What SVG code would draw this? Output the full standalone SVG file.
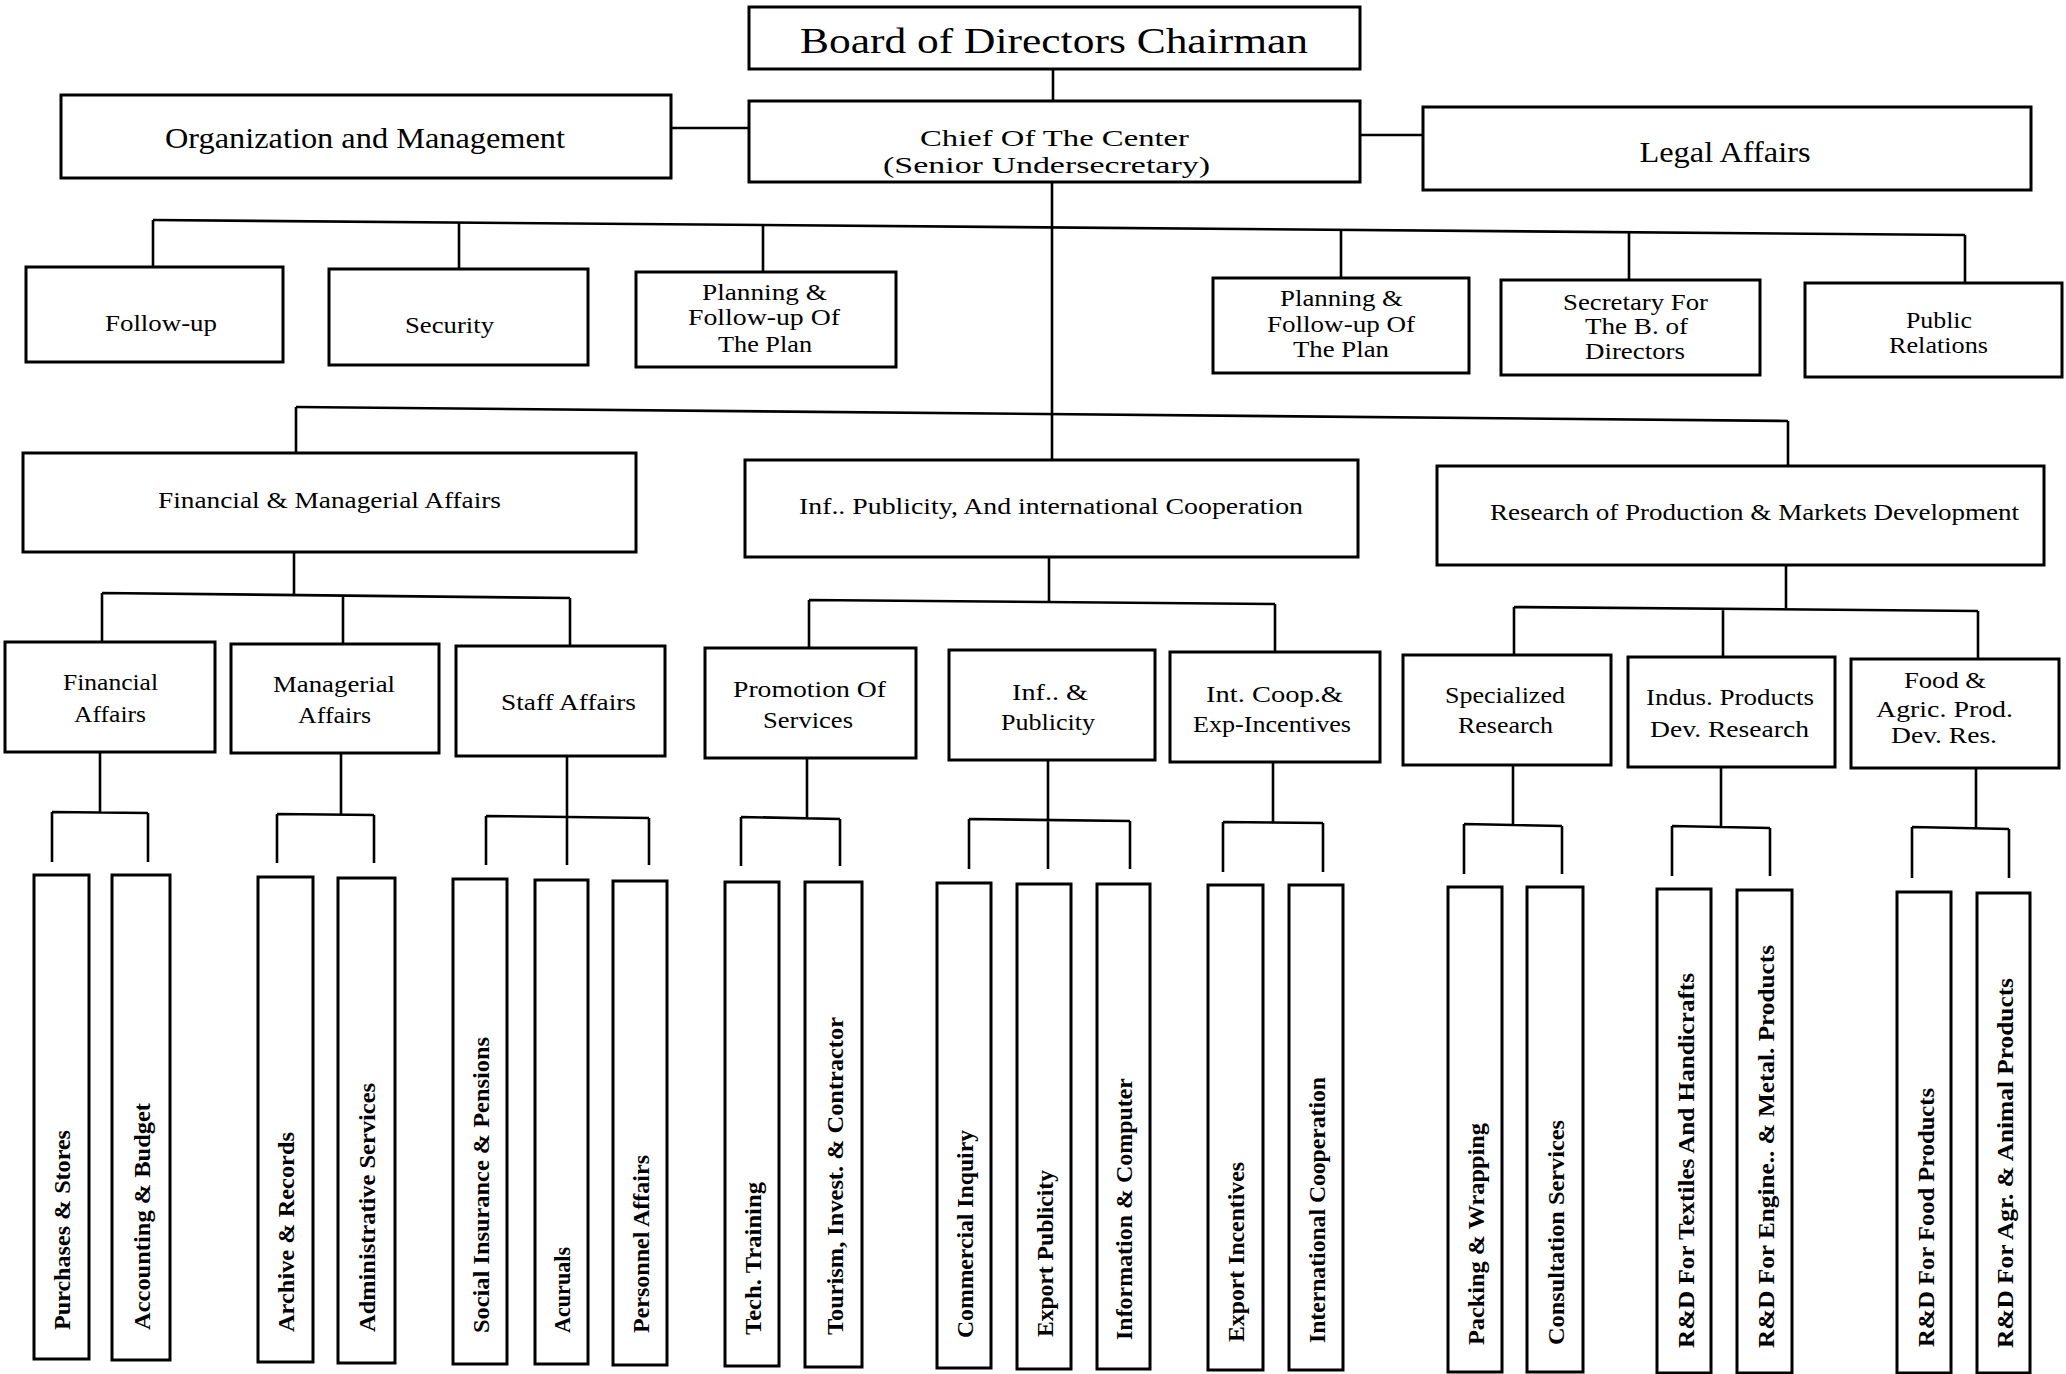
<svg xmlns="http://www.w3.org/2000/svg" width="2066" height="1374" viewBox="0 0 2066 1374">
<style>
.box{fill:#fff;stroke:#000;stroke-width:3}
.conn{fill:none;stroke:#000;stroke-width:2.6}
.t{font-family:"Liberation Serif",serif;text-anchor:middle;fill:#000;font-size:24px}
.t1{font-size:36px}
.t2{font-size:24px}
.t3{font-size:30px}
.v{font-family:"Liberation Serif",serif;font-weight:bold;font-size:24px;fill:#000}
</style>
<rect width="2066" height="1374" fill="#fff"/>
<g id="connectors">
<line class="conn" x1="1053" y1="69" x2="1053" y2="101"/>
<line class="conn" x1="671" y1="128" x2="749" y2="128"/>
<line class="conn" x1="1360" y1="135" x2="1423" y2="135"/>
<line class="conn" x1="1052" y1="182" x2="1052" y2="460"/>
<line class="conn" x1="153" y1="220" x2="1965" y2="235"/>
<path class="conn" d="M153 220V267M459 222.5V269M763 225V272M1341 230V278M1629 232V280M1965 235V283"/>
<line class="conn" x1="296" y1="407" x2="1788" y2="421"/>
<path class="conn" d="M296 407V453M1788 421V466"/>
<path class="conn" d="M294 552V595M102 593L570 598M102 593V642M343 596V644M570 598V646"/>
<path class="conn" d="M1049 557V602M809 600L1275 604M809 600V648M1275 604V652"/>
<path class="conn" d="M1786 565V608M1514 607L1978 611M1514 607V655M1723 609V657M1978 611V659"/>
<path class="conn" d="M100 752V813M52 812L148 813M52 812V862M148 813V862"/>
<path class="conn" d="M341 753V815M277 814L374 815M277 814V863M374 815V863"/>
<path class="conn" d="M567 756V817M486 816L649 818M486 816V865M567 817V865M649 818V865"/>
<path class="conn" d="M807 758V818M741 817L840 819M741 817V866M840 819V866"/>
<path class="conn" d="M1048 760V820M969 819L1130 821M969 819V869M1048 820V869M1130 821V869"/>
<path class="conn" d="M1273 762V822M1223 822L1323 823M1223 822V872M1323 823V872"/>
<path class="conn" d="M1513 765V825M1464 824L1562 826M1464 824V874M1562 826V874"/>
<path class="conn" d="M1721 767V827M1672 826L1770 828M1672 826V876M1770 828V876"/>
<path class="conn" d="M1976 768V828M1912 827L2009 829M1912 827V878M2009 829V878"/>
</g>
<g id="board"><rect class="box" x="749" y="7" width="611" height="62"/><text class="t t1" x="1054" y="53" textLength="508" lengthAdjust="spacingAndGlyphs">Board of Directors Chairman</text></g>
<g id="chief"><rect class="box" x="749" y="101" width="611" height="81"/><text class="t t2" x="1054.5" y="146" textLength="269" lengthAdjust="spacingAndGlyphs">Chief Of The Center</text><text class="t t2" x="1046.5" y="173" textLength="327" lengthAdjust="spacingAndGlyphs">(Senior Undersecretary)</text></g>
<g id="org"><rect class="box" x="61" y="95" width="610" height="83"/><text class="t t3" x="365" y="148" textLength="400" lengthAdjust="spacingAndGlyphs">Organization and Management</text></g>
<g id="legal"><rect class="box" x="1423" y="107" width="608" height="83"/><text class="t t3" x="1725" y="162" textLength="171" lengthAdjust="spacingAndGlyphs">Legal Affairs</text></g>
<g id="followup"><rect class="box" x="26" y="267" width="257" height="95"/><text class="t" x="161" y="331" textLength="112" lengthAdjust="spacingAndGlyphs">Follow-up</text></g>
<g id="security"><rect class="box" x="329" y="269" width="259" height="96"/><text class="t" x="449.5" y="333" textLength="89" lengthAdjust="spacingAndGlyphs">Security</text></g>
<g id="planning-left"><rect class="box" x="636" y="272" width="260" height="95"/><text class="t" x="764.5" y="300" textLength="125" lengthAdjust="spacingAndGlyphs">Planning &amp;</text><text class="t" x="764" y="325" textLength="152" lengthAdjust="spacingAndGlyphs">Follow-up Of</text><text class="t" x="765" y="352" textLength="94" lengthAdjust="spacingAndGlyphs">The Plan</text></g>
<g id="planning-right"><rect class="box" x="1213" y="278" width="256" height="95"/><text class="t" x="1341.5" y="306" textLength="123" lengthAdjust="spacingAndGlyphs">Planning &amp;</text><text class="t" x="1341" y="332" textLength="148" lengthAdjust="spacingAndGlyphs">Follow-up Of</text><text class="t" x="1341" y="357" textLength="96" lengthAdjust="spacingAndGlyphs">The Plan</text></g>
<g id="secretary"><rect class="box" x="1501" y="280" width="259" height="95"/><text class="t" x="1635.5" y="310" textLength="145" lengthAdjust="spacingAndGlyphs">Secretary For</text><text class="t" x="1636.5" y="334" textLength="103" lengthAdjust="spacingAndGlyphs">The B. of</text><text class="t" x="1635" y="359" textLength="100" lengthAdjust="spacingAndGlyphs">Directors</text></g>
<g id="public-relations"><rect class="box" x="1805" y="283" width="257" height="94"/><text class="t" x="1939" y="328" textLength="66" lengthAdjust="spacingAndGlyphs">Public</text><text class="t" x="1938.5" y="353" textLength="99" lengthAdjust="spacingAndGlyphs">Relations</text></g>
<g id="fin-man"><rect class="box" x="23" y="453" width="613" height="99"/><text class="t" x="329.5" y="508" textLength="343" lengthAdjust="spacingAndGlyphs">Financial &amp; Managerial Affairs</text></g>
<g id="inf-pub"><rect class="box" x="745" y="460" width="613" height="97"/><text class="t" x="1051" y="514" textLength="504" lengthAdjust="spacingAndGlyphs">Inf.. Publicity, And international Cooperation</text></g>
<g id="research"><rect class="box" x="1437" y="466" width="607" height="99"/><text class="t" x="1754.5" y="520" textLength="529" lengthAdjust="spacingAndGlyphs">Research of Production &amp; Markets Development</text></g>
<g id="financial-affairs"><rect class="box" x="5" y="642" width="210" height="110"/><text class="t" x="110.5" y="690" textLength="95" lengthAdjust="spacingAndGlyphs">Financial</text><text class="t" x="110" y="722" textLength="72" lengthAdjust="spacingAndGlyphs">Affairs</text></g>
<g id="managerial-affairs"><rect class="box" x="231" y="644" width="208" height="109"/><text class="t" x="334" y="692" textLength="122" lengthAdjust="spacingAndGlyphs">Managerial</text><text class="t" x="334.5" y="723" textLength="73" lengthAdjust="spacingAndGlyphs">Affairs</text></g>
<g id="staff-affairs"><rect class="box" x="456" y="646" width="209" height="110"/><text class="t" x="568.5" y="710" textLength="135" lengthAdjust="spacingAndGlyphs">Staff Affairs</text></g>
<g id="promotion"><rect class="box" x="705" y="648" width="211" height="110"/><text class="t" x="809.5" y="697" textLength="153" lengthAdjust="spacingAndGlyphs">Promotion Of</text><text class="t" x="808" y="728" textLength="90" lengthAdjust="spacingAndGlyphs">Services</text></g>
<g id="inf-publicity"><rect class="box" x="949" y="650" width="206" height="110"/><text class="t" x="1050" y="700" textLength="76" lengthAdjust="spacingAndGlyphs">Inf.. &amp;</text><text class="t" x="1048" y="730" textLength="94" lengthAdjust="spacingAndGlyphs">Publicity</text></g>
<g id="int-coop"><rect class="box" x="1170" y="652" width="210" height="110"/><text class="t" x="1274.5" y="702" textLength="137" lengthAdjust="spacingAndGlyphs">Int. Coop.&amp;</text><text class="t" x="1272" y="732" textLength="158" lengthAdjust="spacingAndGlyphs">Exp-Incentives</text></g>
<g id="specialized"><rect class="box" x="1403" y="655" width="208" height="110"/><text class="t" x="1505" y="703" textLength="120" lengthAdjust="spacingAndGlyphs">Specialized</text><text class="t" x="1505.5" y="733" textLength="95" lengthAdjust="spacingAndGlyphs">Research</text></g>
<g id="indus"><rect class="box" x="1628" y="657" width="207" height="110"/><text class="t" x="1730" y="705" textLength="168" lengthAdjust="spacingAndGlyphs">Indus. Products</text><text class="t" x="1729.5" y="737" textLength="159" lengthAdjust="spacingAndGlyphs">Dev. Research</text></g>
<g id="food"><rect class="box" x="1851" y="659" width="208" height="109"/><text class="t" x="1945" y="688" textLength="82" lengthAdjust="spacingAndGlyphs">Food &amp;</text><text class="t" x="1944.5" y="717" textLength="137" lengthAdjust="spacingAndGlyphs">Agric. Prod.</text><text class="t" x="1944" y="743" textLength="106" lengthAdjust="spacingAndGlyphs">Dev. Res.</text></g>
<g id="purchases"><rect class="box" x="34" y="875" width="55" height="484"/><text class="v" transform="translate(70,1330) rotate(-90)" textLength="200" lengthAdjust="spacingAndGlyphs">Purchases &amp; Stores</text></g>
<g id="accounting"><rect class="box" x="112" y="875" width="58" height="485"/><text class="v" transform="translate(150,1330) rotate(-90)" textLength="227" lengthAdjust="spacingAndGlyphs">Accounting &amp; Budget</text></g>
<g id="archive"><rect class="box" x="258" y="877" width="55" height="485"/><text class="v" transform="translate(294,1332) rotate(-90)" textLength="200" lengthAdjust="spacingAndGlyphs">Archive &amp; Records</text></g>
<g id="admin-services"><rect class="box" x="338" y="878" width="57" height="485"/><text class="v" transform="translate(375,1332) rotate(-90)" textLength="249" lengthAdjust="spacingAndGlyphs">Administrative Services</text></g>
<g id="social"><rect class="box" x="453" y="879" width="54" height="485"/><text class="v" transform="translate(489,1333) rotate(-90)" textLength="296" lengthAdjust="spacingAndGlyphs">Social Insurance &amp; Pensions</text></g>
<g id="acuruals"><rect class="box" x="535" y="880" width="53" height="484"/><text class="v" transform="translate(570,1333) rotate(-90)" textLength="86" lengthAdjust="spacingAndGlyphs">Acuruals</text></g>
<g id="personnel"><rect class="box" x="613" y="881" width="54" height="484"/><text class="v" transform="translate(649,1333) rotate(-90)" textLength="178" lengthAdjust="spacingAndGlyphs">Personnel Affairs</text></g>
<g id="tech-training"><rect class="box" x="725" y="882" width="54" height="484"/><text class="v" transform="translate(761,1335) rotate(-90)" textLength="153" lengthAdjust="spacingAndGlyphs">Tech. Training</text></g>
<g id="tourism"><rect class="box" x="805" y="882" width="57" height="485"/><text class="v" transform="translate(843,1335) rotate(-90)" textLength="318" lengthAdjust="spacingAndGlyphs">Tourism, Invest. &amp; Contractor</text></g>
<g id="commercial"><rect class="box" x="937" y="883" width="54" height="485"/><text class="v" transform="translate(973,1338) rotate(-90)" textLength="208" lengthAdjust="spacingAndGlyphs">Commercial Inquiry</text></g>
<g id="export-publicity"><rect class="box" x="1017" y="884" width="54" height="485"/><text class="v" transform="translate(1053,1337) rotate(-90)" textLength="167" lengthAdjust="spacingAndGlyphs">Export Publicity</text></g>
<g id="information"><rect class="box" x="1097" y="884" width="53" height="485"/><text class="v" transform="translate(1132,1340) rotate(-90)" textLength="262" lengthAdjust="spacingAndGlyphs">Information &amp; Computer</text></g>
<g id="export-incentives"><rect class="box" x="1208" y="885" width="55" height="485"/><text class="v" transform="translate(1244,1342) rotate(-90)" textLength="180" lengthAdjust="spacingAndGlyphs">Export Incentives</text></g>
<g id="intl-coop"><rect class="box" x="1289" y="885" width="54" height="485"/><text class="v" transform="translate(1325,1343) rotate(-90)" textLength="266" lengthAdjust="spacingAndGlyphs">International Cooperation</text></g>
<g id="packing"><rect class="box" x="1448" y="887" width="54" height="485"/><text class="v" transform="translate(1484,1345) rotate(-90)" textLength="222" lengthAdjust="spacingAndGlyphs">Packing &amp; Wrapping</text></g>
<g id="consultation"><rect class="box" x="1527" y="887" width="56" height="485"/><text class="v" transform="translate(1564,1345) rotate(-90)" textLength="225" lengthAdjust="spacingAndGlyphs">Consultation Services</text></g>
<g id="rd-textiles"><rect class="box" x="1657" y="889" width="54" height="484"/><text class="v" transform="translate(1694,1348) rotate(-90)" textLength="375" lengthAdjust="spacingAndGlyphs">R&amp;D For Textiles And Handicrafts</text></g>
<g id="rd-engine"><rect class="box" x="1737" y="890" width="55" height="483"/><text class="v" transform="translate(1774,1348) rotate(-90)" textLength="403" lengthAdjust="spacingAndGlyphs">R&amp;D For Engine.. &amp; Metal. Products</text></g>
<g id="rd-food"><rect class="box" x="1897" y="892" width="54" height="481"/><text class="v" transform="translate(1934,1347) rotate(-90)" textLength="259" lengthAdjust="spacingAndGlyphs">R&amp;D For Food Products</text></g>
<g id="rd-agr"><rect class="box" x="1977" y="893" width="53" height="480"/><text class="v" transform="translate(2013,1348) rotate(-90)" textLength="370" lengthAdjust="spacingAndGlyphs">R&amp;D For Agr. &amp; Animal Products</text></g>
</svg>
